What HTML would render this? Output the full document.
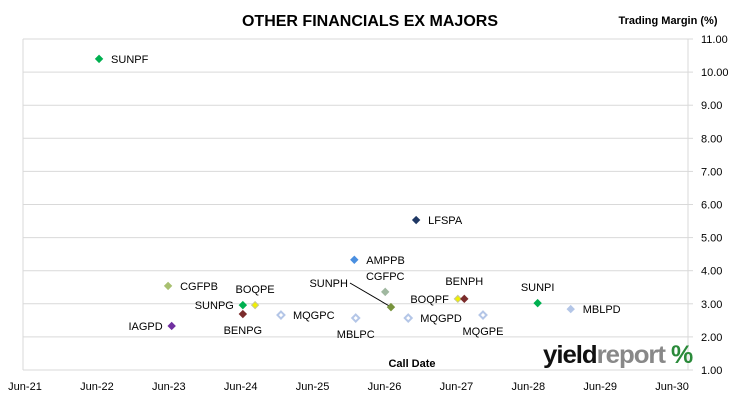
<!DOCTYPE html>
<html><head><meta charset="utf-8"><style>
body{margin:0;background:#fff;font-family:"Liberation Sans",sans-serif}
svg text{font-family:"Liberation Sans",sans-serif}
</style></head><body>
<svg width="731" height="401" viewBox="0 0 731 401">
<text x="370" y="26" text-anchor="middle" font-size="16" font-weight="bold" fill="#000">OTHER FINANCIALS EX MAJORS</text>
<text x="668" y="24" text-anchor="middle" font-size="11" font-weight="bold" fill="#000">Trading Margin (%)</text>
<g id="grid"></g>
<g id="yt"></g>
<g id="xt"></g>
<line x1="350" y1="283" x2="391" y2="307" stroke="#000" stroke-width="1"/>
<g id="pts"></g>
<text x="412" y="367" text-anchor="middle" font-size="11" font-weight="bold">Call Date</text>
<g>
<text x="543" y="363" font-size="25" font-weight="bold" fill="#111" letter-spacing="-1" textLength="122" lengthAdjust="spacingAndGlyphs">yield<tspan fill="#888">report</tspan></text>
<text x="671" y="363" font-size="25" font-weight="bold" fill="#2a8a3a">%</text>
</g>
</svg>
<script>
const yTicks=[1,2,3,4,5,6,7,8,9,10,11];
const xTickLabels=["Jun-21","Jun-22","Jun-23","Jun-24","Jun-25","Jun-26","Jun-27","Jun-28","Jun-29","Jun-30"];
const names=["SUNPF","LFSPA","AMPPB","CGFPB","CGFPC","SUNPG","BOQPE","BENPG","MQGPC","IAGPD","MBLPC","SUNPH","MQGPD","BOQPF","BENPH","MQGPE","SUNPI","MBLPD"];
const callYears=[1.03,5.44,4.58,1.99,5.01,3.03,3.2,3.03,3.56,2.04,4.6,5.09,5.33,6.02,6.11,6.37,7.13,7.59];
const margins=[10.40,5.53,4.33,3.54,3.36,2.96,2.96,2.69,2.66,2.33,2.57,2.90,2.57,3.15,3.15,2.66,3.02,2.84];
const colors=["#00b050","#1f3864","#4a8fe0","#a8c070","#a0b8a0","#00b050","#f0f000","#7b2c2c","#b4c6e7","#7030a0","#b4c6e7","#77933c","#b4c6e7","#f0f000","#7b2c2c","#b4c6e7","#00b050","#b4c6e7"];
const hollow=[0,0,0,0,0,0,0,0,1,0,1,0,1,0,0,1,0,0];
const lblDx=[12,12,12,12,-18,-55,-20,-18,12,-46,-20,-80,12,-62,-20,-22,-20,12];
const lblDy=[4,4,4,4,-12,4,-12,20,4,4,20,-20,4,4,-14,20,-12,4];
const NS="http://www.w3.org/2000/svg";
const X0=25,XS=71.9,Y0=370,YS=33.1,L=23,R=688;
const xs=v=>X0+v*XS, ys=v=>Y0-(v-1)*YS;
function el(t,a){const e=document.createElementNS(NS,t);for(const k in a)e.setAttribute(k,a[k]);return e;}
const grid=document.getElementById('grid'),yt=document.getElementById('yt'),xt=document.getElementById('xt'),pts=document.getElementById('pts');
yTicks.forEach(v=>{
 const g=el('line',{x1:L,x2:R,y1:ys(v),y2:ys(v),stroke:'#d9d9d9','stroke-width':1});
 
 
 grid.appendChild(g);
 const tm=el('line',{x1:R,x2:R+5,y1:ys(v),y2:ys(v),stroke:'#d9d9d9'});
 
 
 yt.appendChild(tm);
 const t=el('text',{x:R+13,y:ys(v)+4,'font-size':11,fill:'#000'});
 
 
 t.textContent=v.toFixed(2);yt.appendChild(t);
});
const ax=el('line',{x1:R,x2:R,y1:ys(11),y2:ys(1),stroke:'#d9d9d9'});


grid.appendChild(ax);
const lx=el('line',{x1:L,x2:L,y1:ys(11),y2:ys(1),stroke:'#d9d9d9'});


grid.appendChild(lx);
xTickLabels.forEach((s,i)=>{
 const t=el('text',{x:xs(i),y:390,'font-size':11,'text-anchor':'middle',fill:'#000'});
 
 
 t.textContent=s;xt.appendChild(t);
});
names.forEach((n,i)=>{
 const x=xs(callYears[i]),y=ys(margins[i]),r=3.5;
 const p=el('polygon',{points:`${x},${y-r} ${x+r},${y} ${x},${y+r} ${x-r},${y}`,fill:hollow[i]?'#fff':colors[i],stroke:hollow[i]?colors[i]:(colors[i]=='#f0f000'?'#c8c890':colors[i]),'stroke-width':hollow[i]?2:1});
 
 
 pts.appendChild(p);
 const t=el('text',{x:x+lblDx[i],y:y+lblDy[i],'font-size':11,fill:'#000','text-anchor':lblDx[i]<0&&n!=="SUNPH"&&n!=="BOQPF"&&n!=="SUNPG"&&n!=="IAGPD"?'middle':'start'});
 if(lblDx[i]<0&&(n==="SUNPG"||n==="IAGPD"||n==="SUNPH"||n==="BOQPF")){t.setAttribute('text-anchor','end');t.setAttribute('x',x-9);if(n==="SUNPH")t.setAttribute('x',x-43);}
 else if(lblDx[i]<0){t.setAttribute('x',x);}
 
 
 t.textContent=n;pts.appendChild(t);
});
</script>
</body></html>
